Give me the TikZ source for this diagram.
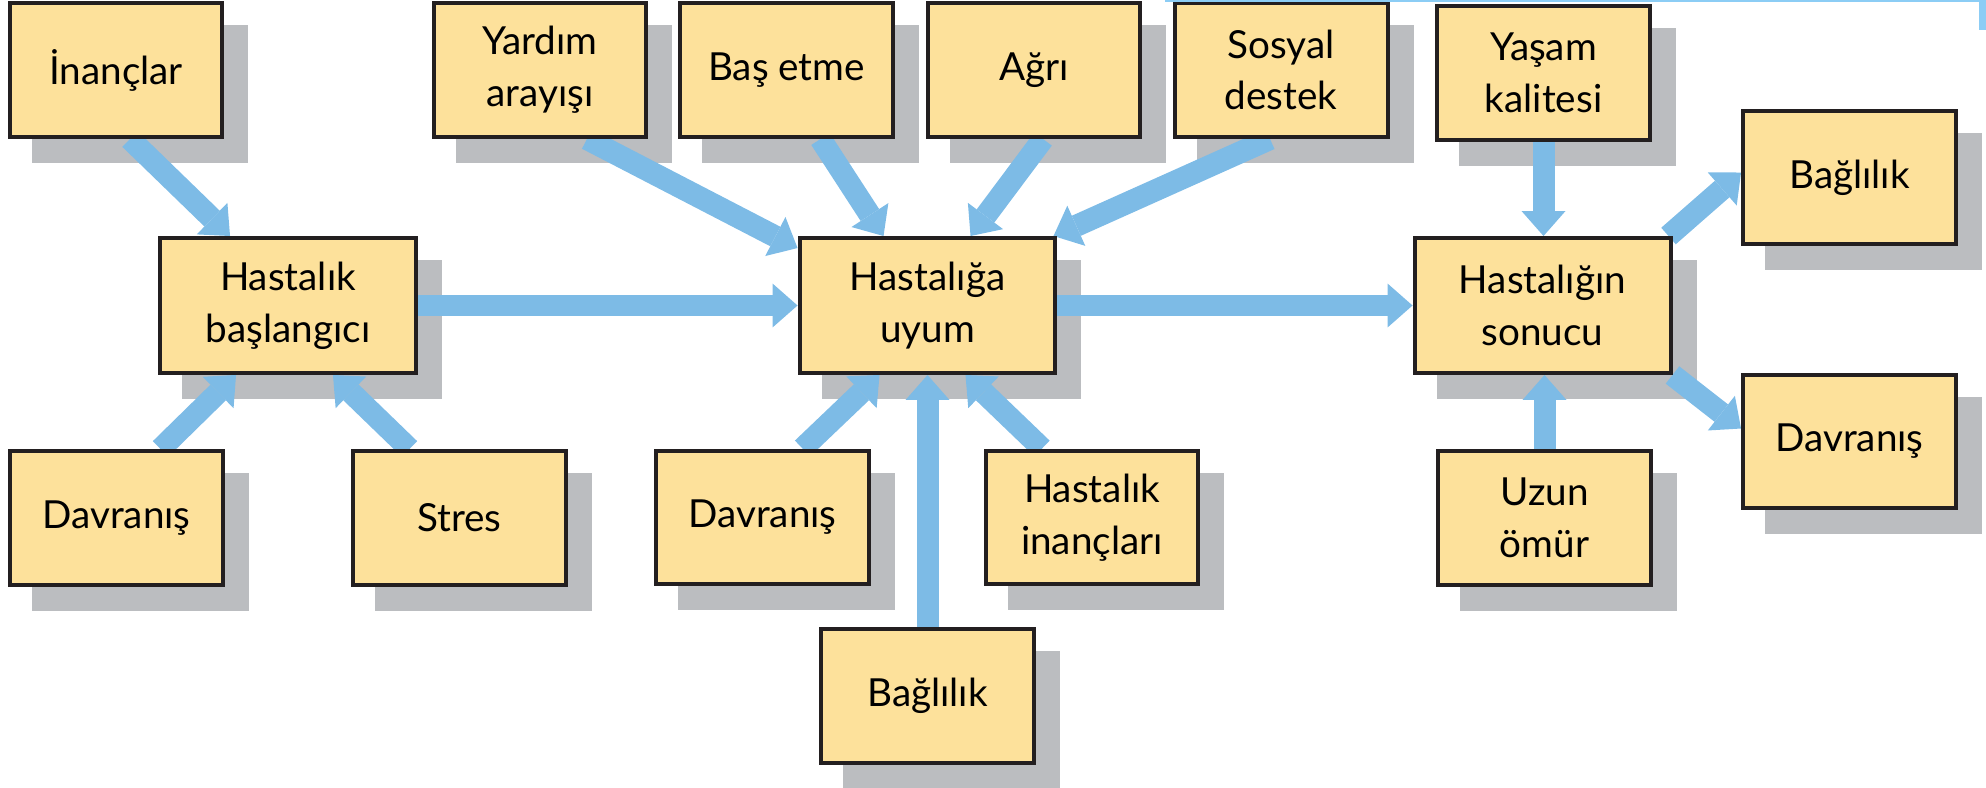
\documentclass[tikz,border=0pt]{standalone}
\usepackage{fontspec}
\setmainfont{Lato}
\usetikzlibrary{calc,arrows.meta}
\definecolor{boxfill}{RGB}{253,225,155}
\definecolor{shadowgrey}{RGB}{187,189,192}
\definecolor{flowblue}{RGB}{125,187,230}
\definecolor{edgeblue}{RGB}{140,205,245}
\definecolor{edgeblack}{RGB}{35,31,32}
\pgfdeclarelayer{shadow}
\pgfdeclarelayer{flows}
\pgfsetlayers{shadow,flows,main}
\begin{document}
\begin{tikzpicture}[x=0.02cm,y=-0.02cm,
    factor/.style={draw=edgeblack, line width=0.08cm, fill=boxfill, inner sep=0pt,
        minimum width=4.26cm, minimum height=2.68cm, align=center,
        font=\fontsize{22}{29.5}\selectfont},
    hub/.style={factor, minimum width=5.12cm, minimum height=2.7cm},
    flow/.style={draw=flowblue, line width=0.44cm,
        -{Triangle[length=0.5cm, width=0.88cm, line width=0pt]}}]

    \useasboundingbox (0,0) rectangle (1986,787);

    \node[factor] (inanc)   at (116,70)      {İnançlar};
    \node[factor] (yardim)  at (540,70)      {Yardım\\arayışı};
    \node[factor] (basetme) at (786.5,70)    {Baş etme};
    \node[factor] (agri)    at (1034,70)     {Ağrı};
    \node[factor] (sosyal)  at (1281,70)     {Sosyal\\destek};
    \node[factor] (yasam)   at (1543.5,73)   {Yaşam\\kalitesi};

    \node[hub] (hbas)  at (288,305.5)    {Hastalık\\başlangıcı};
    \node[hub] (uyum)  at (927.5,305.5)  {Hastalığa\\uyum};
    \node[hub] (sonuc) at (1542.5,305.5) {Hastalığın\\sonucu};

    \node[factor] (bagR)   at (1849.5,177.5) {Bağlılık};
    \node[factor] (davR)   at (1849.5,441.5) {Davranış};
    \node[factor] (davL)   at (116.5,518)    {Davranış};
    \node[factor] (stres)  at (459.5,518)    {Stres};
    \node[factor] (davM)   at (762.5,517.5)  {Davranış};
    \node[factor] (hinanc) at (1092,517.5)   {Hastalık\\inançları};
    \node[factor] (uzun)   at (1544.5,518)   {Uzun\\ömür};
    \node[factor] (bagM)   at (927.5,696)    {Bağlılık};

    \begin{pgfonlayer}{shadow}
        \foreach \n in {inanc,yardim,basetme,agri,sosyal,yasam,hbas,uyum,sonuc,
                        bagR,davR,davL,stres,davM,hinanc,uzun,bagM} {
            \fill[shadowgrey] ($(\n.north west)+(24,24)$) rectangle ($(\n.south east)+(24,24)$);
        }
    \end{pgfonlayer}

    \begin{pgfonlayer}{flows}
        \draw[flow] ($(inanc.south)+(14,0)$) -- ($(hbas.north west)+(72,0)$);
        \draw[flow] ($(davL.north)+(44,0)$) -- ($(hbas.south west)+(78,0)$);
        \draw[flow] ($(stres.north)+(-50,0)$) -- ($(hbas.south east)+(-85,0)$);
        \draw[flow] (hbas.east) -- (uyum.west);

        \draw[flow] ($(yardim.south)+(47,0)$) -- ($(uyum.north west)+(0,12)$);
        \draw[flow] ($(basetme.south)+(34,0)$) -- ($(uyum.north west)+(86,0)$);
        \draw[flow] ($(agri.south)+(9,0)$) -- ($(uyum.north west)+(173,0)$);
        \draw[flow] ($(sosyal.south)+(-11,0)$) -- ($(uyum.north east)+(-4,0)$);
        \draw[flow] ($(davM.north)+(40,0)$) -- ($(uyum.south west)+(82,0)$);
        \draw[flow] (bagM.north) -- (bagM.north |- uyum.south);
        \draw[flow] ($(hinanc.north)+(-50,0)$) -- ($(uyum.south east)+(-92,0)$);
        \draw[flow] (uyum.east) -- (sonuc.west);

        \draw[flow] (yasam.south) -- (yasam.south |- sonuc.north);
        \draw[flow] (uzun.north) -- (uzun.north |- sonuc.south);
        \draw[flow] ($(sonuc.north east)+(-4,0)$) -- ($(bagR.north west)+(0,64)$);
        \draw[flow] (sonuc.south east) -- ($(davR.north west)+(0,56)$);
    \end{pgfonlayer}

    \fill[edgeblue] (1165,0) rectangle (1986,2.5);
    \fill[edgeblue] (1979,0) rectangle (1986,30);
\end{tikzpicture}
\end{document}
